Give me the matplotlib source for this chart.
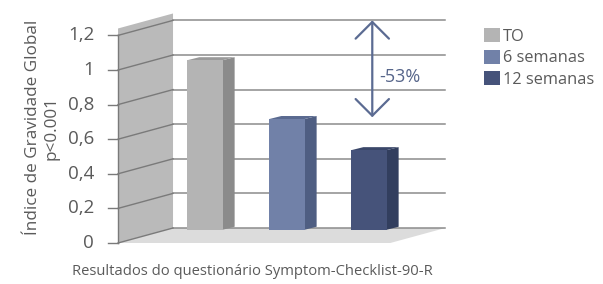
import matplotlib.pyplot as plt
from matplotlib.patches import Polygon

plt.rcParams['font.family'] = ['Open Sans', 'DejaVu Sans']

# data
categories = ['TO', '6 semanas', '12 semanas']
values = [0.98, 0.64, 0.46]
tick_values = [0, 0.2, 0.4, 0.6, 0.8, 1.0, 1.2]
tick_labels = ['0', '0,2', '0,4', '0,6', '0,8', '1', '1,2']
change_label = '-53%'

front_colors = ['#b4b4b4', '#7181a8', '#46537a']
side_colors = ['#8b8b8b', '#4f5e82', '#323e5e']
top_colors = ['#9a9a9a', '#5a6a90', '#3a4769']
text_color = '#5a5a5a'

# layout of the pseudo-3D box (data units of the back plane)
W, H = 603, 284
px_x, px_y = 82.0, 173.0      # pixels per unit
x0, y0 = 205, 228             # pixel position of data (0, 0)
DX, DY = 55 / px_x, 15 / px_y  # depth offset back -> front
SX, SY = 12 / px_x, 3 / px_y   # depth of the bars
back_left, back_right = -0.39, 2.93
wall_top = 1.24
bar_w = 0.43
base = -0.01

fig = plt.figure(figsize=(W / 100, H / 100), dpi=100)
ax = fig.add_axes([0, 0, 1, 1])
ax.set_xlim(-x0 / px_x, (W - x0) / px_x)
ax.set_ylim((y0 - H) / px_y, y0 / px_y)
ax.axis('off')

# wall and floor
ax.add_patch(Polygon([(back_left, 0), (back_left, wall_top),
                      (back_left - DX, wall_top - DY), (back_left - DX, -DY)],
                     closed=True, facecolor='#bababa', edgecolor='none', zorder=1))
ax.add_patch(Polygon([(back_left, 0), (back_right, 0),
                      (back_right - DX, -DY), (back_left - DX, -DY)],
                     closed=True, facecolor='#dcdcdc', edgecolor='none', zorder=1))

# grid lines, oblique wall lines, ticks
for v, lab in zip(tick_values, tick_labels):
    ax.plot([back_left, back_right], [v, v], color='#8c8c8c', lw=1.1, zorder=2)
    ax.plot([back_left - DX, back_left], [v - DY, v], color='#7a7a7a', lw=1.0, zorder=2)
    ax.plot([back_left - DX - 0.12, back_left - DX], [v - DY, v - DY], color='#7a7a7a', lw=1.0, zorder=2)
    ax.text(back_left - DX - 0.29, v - DY, lab, ha='right', va='center',
            fontsize=13.5, color=text_color)
ax.plot([back_left - DX] * 2, [-DY, tick_values[-1] - DY], color='#7a7a7a', lw=1.0, zorder=2)

# bars: front faces via ax.bar, sides and tops as polygons
xs = list(range(len(values)))
bars = ax.bar(xs, values, width=bar_w, bottom=base, color=front_colors,
              edgecolor='none', zorder=4, label=categories)
for x, v, sc, tc in zip(xs, values, side_colors, top_colors):
    r = x + bar_w / 2
    l = x - bar_w / 2
    top = base + v
    ax.add_patch(Polygon([(r, base), (r, top), (r + SX, top + SY), (r + SX, base + SY)],
                         closed=True, facecolor=sc, edgecolor='none', zorder=3))
    ax.add_patch(Polygon([(l, top), (r, top), (r + SX, top + SY), (l + SX, top + SY)],
                         closed=True, facecolor=tc, edgecolor='none', zorder=3))

# reduction arrow
arrow_x = 2.04
ax.annotate('', xy=(arrow_x, tick_values[-1]), xytext=(arrow_x, values[1]),
            arrowprops=dict(arrowstyle='<->,head_length=0.8,head_width=0.8',
                            color='#5b6b92', lw=1.6, shrinkA=0, shrinkB=0,
                            mutation_scale=15), zorder=5)
ax.text(arrow_x + 0.09, 0.87, change_label, ha='left', va='center',
        fontsize=13, color='#56658a')

# labels
fig.text(0.07, 0.55, 'Índice de Gravidade Global\np<0.001', rotation=90,
         ha='center', va='center', multialignment='center', fontsize=12.3,
         color=text_color, linespacing=1.15)
fig.text(0.418, 0.045, 'Resultados do questionário Symptom-Checklist-90-R',
         ha='center', va='center', fontsize=10.6, color=text_color)

leg = ax.legend(handles=bars.patches, labels=categories, loc='upper left',
                bbox_to_anchor=(0.789, 0.93), frameon=False, fontsize=11.8,
                handlelength=0.95, handleheight=0.95, handletextpad=0.2,
                labelspacing=0.3, borderpad=0)
for t in leg.get_texts():
    t.set_color(text_color)

fig.savefig('out.png', dpi=100)
